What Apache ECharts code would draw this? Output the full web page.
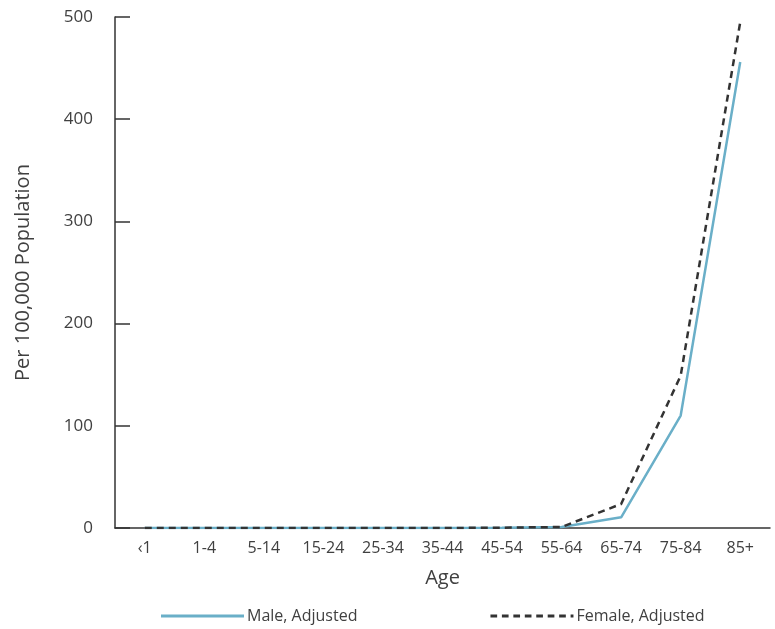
<!DOCTYPE html>
<html>
<head>
<meta charset="utf-8">
<script src="https://cdn.jsdelivr.net/npm/echarts@6/dist/echarts.min.js"></script>
<style>html,body{margin:0;padding:0;background:#fff;}#c{width:775px;height:629px;}</style>
</head>
<body>
<div id="c"></div>
<script>
var categories = ['‹1','1-4','5-14','15-24','25-34','35-44','45-54','55-64','65-74','75-84','85+'];
var maleAdjusted = [0, 0, 0, 0, 0, 0, 0.3, 1, 10.5, 110, 456];
var femaleAdjusted = [0, 0, 0, 0, 0, 0, 0.3, 1, 23.5, 149, 495];
var yTicks = [0, 100, 200, 300, 400, 500];

var font = 'Open Sans';
var textColor = '#404040';
var dashPath = 'path://M0,0 L7,0 L7,3 L0,3 Z M12,0 L19,0 L19,3 L12,3 Z M24,0 L31,0 L31,3 L24,3 Z M36,0 L43,0 L43,3 L36,3 Z M48,0 L55,0 L55,3 L48,3 Z M60,0 L67,0 L67,3 L60,3 Z M72,0 L79,0 L79,3 L72,3 Z M84,0 L87,0 L87,3 L84,3 Z';
var chart = echarts.init(document.getElementById('c'));
chart.setOption({
  animation: false,
  textStyle: {fontFamily: font},
  grid: {left: 115, right: 5, top: 17, bottom: 101, containLabel: false},
  legend: {
    left: 156, top: 603, itemWidth: 83, itemHeight: 3, itemGap: 133,
    textStyle: {fontFamily: font, fontSize: 16, color: textColor, padding: [0,0,0,-2]},
    data: [
      {name: 'Male, Adjusted', icon: 'path://M0,0 L83,0 L83,3 L0,3 Z'},
      {name: 'Female, Adjusted', icon: dashPath}
    ]
  },
  xAxis: {
    type: 'category', data: categories, boundaryGap: true,
    name: 'Age', nameLocation: 'middle', nameGap: 40,
    nameTextStyle: {fontFamily: font, fontSize: 20, color: textColor},
    axisLine: {lineStyle: {color: '#333', width: 1.5}},
    axisTick: {inside: true, alignWithLabel: true, length: 12, lineStyle: {color: '#333', width: 1.5}},
    axisLabel: {fontFamily: font, fontSize: 16, color: textColor, margin: 12, interval: 0}
  },
  yAxis: {
    type: 'value', min: yTicks[0], max: yTicks[yTicks.length-1], interval: 100,
    name: 'Per 100,000 Population', nameLocation: 'middle', nameGap: 82, nameRotate: 90,
    nameTextStyle: {fontFamily: font, fontSize: 20, color: textColor},
    axisLine: {show: true, lineStyle: {color: '#333', width: 1.5}},
    axisTick: {show: true, inside: true, length: 15, lineStyle: {color: '#333', width: 1.5}},
    splitLine: {show: false},
    axisLabel: {fontFamily: font, fontSize: 17, color: textColor, margin: 22}
  },
  series: [
    {name: 'Male, Adjusted', type: 'line', data: maleAdjusted, symbol: 'none',
     lineStyle: {color: '#6aafc8', width: 2.5}, itemStyle: {color: '#6aafc8'}},
    {name: 'Female, Adjusted', type: 'line', data: femaleAdjusted, symbol: 'none',
     lineStyle: {color: '#333333', width: 2.5, type: [7, 5]}, itemStyle: {color: '#333333'}}
  ]
});
</script>
</body>
</html>
